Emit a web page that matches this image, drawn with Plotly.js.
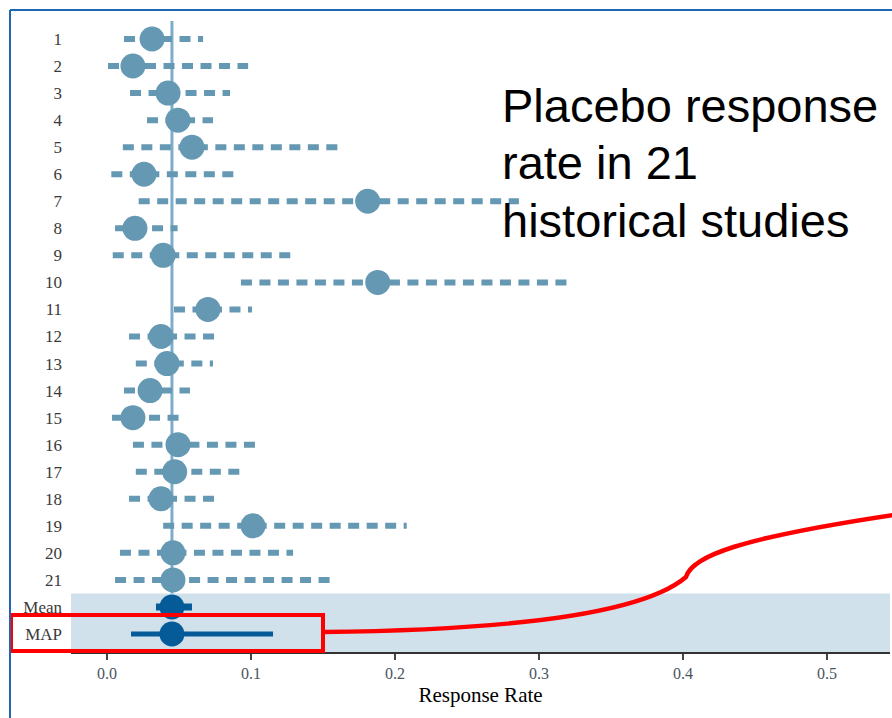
<!DOCTYPE html>
<html>
<head>
<meta charset="utf-8">
<script src="https://cdn.plot.ly/plotly-3.0.1.min.js"></script>
<style>
html,body{margin:0;padding:0;background:#fff;}
#chart{width:892px;height:718px;}
</style>
</head>
<body>
<div id="chart"></div>
<script>
// ---- data ----
const studyLabels = ['1','2','3','4','5','6','7','8','9','10','11','12','13','14','15','16','17','18','19','20','21'];
const studyPoint  = [0.0313,0.0180,0.0424,0.0493,0.0590,0.0257,0.1810,0.0194,0.0390,0.1880,0.0701,0.0375,0.0417,0.0299,0.0180,0.0493,0.0470,0.0375,0.1014,0.0458,0.0458];
const studyLow    = [0.0118,0.0007,0.0160,0.0278,0.0110,0.0030,0.0220,0.0056,0.0040,0.0930,0.0465,0.0153,0.0200,0.0118,0.0035,0.0180,0.0200,0.0153,0.0390,0.0090,0.0056];
const studyHigh   = [0.0667,0.0980,0.0854,0.0736,0.1630,0.0890,0.2860,0.0490,0.1290,0.3192,0.1007,0.0750,0.0736,0.0576,0.0507,0.1040,0.0924,0.0750,0.2081,0.1292,0.1568];
const summaryLabels = ['Mean','MAP'];
const summaryPoint  = [0.0451,0.0451];
const summaryLow    = [0.0340,0.0167];
const summaryHigh   = [0.0590,0.1153];
const xTickVals = [0.0,0.1,0.2,0.3,0.4,0.5];
const xTickText = ['0.0','0.1','0.2','0.3','0.4','0.5'];
const annotationLines = ['Placebo response','rate in 21','historical studies'];

// ---- layout constants ----
const W = 892, H = 718;
const M = {l:71, r:2, t:21, b:66};
const PW = W - M.l - M.r, PH = H - M.t - M.b;
const px = x => (x - M.l) / PW;
const py = y => (H - M.b - y) / PH;

const allLabels = studyLabels.concat(summaryLabels);
const rowOf = i => i + 1;

const studyColor = '#6598b3';
const refColor = '#7eadcc';
const darkColor = '#045b97';

const traces = [];
// reference line at mean
traces.push({
  x:[summaryPoint[0], summaryPoint[0]], y:[0.2, 21.5],
  mode:'lines', line:{color:refColor, width:3}, hoverinfo:'skip', showlegend:false
});
// study CIs (dashed)
studyLabels.forEach((lab,i)=>{
  traces.push({
    x:[studyLow[i], studyHigh[i]], y:[rowOf(i), rowOf(i)],
    mode:'lines', line:{color:studyColor, width:6, dash:'11px,7.5px'},
    hoverinfo:'skip', showlegend:false
  });
});
// study points
traces.push({
  x:studyPoint, y:studyLabels.map((_,i)=>rowOf(i)),
  mode:'markers', marker:{color:studyColor, size:25, line:{width:0}},
  showlegend:false
});
// summary CIs
summaryLabels.forEach((lab,j)=>{
  const i = studyLabels.length + j;
  traces.push({
    x:[summaryLow[j], summaryHigh[j]], y:[rowOf(i), rowOf(i)],
    mode:'lines', line:{color:darkColor, width:j===0?7:5},
    hoverinfo:'skip', showlegend:false
  });
});
traces.push({
  x:summaryPoint, y:summaryLabels.map((_,j)=>rowOf(studyLabels.length+j)),
  mode:'markers', marker:{color:darkColor, size:25, line:{width:0}},
  showlegend:false
});

const redPath =
  'M' + px(323) + ',' + py(632) +
  ' C' + px(520) + ',' + py(630) + ' ' + px(645) + ',' + py(612) + ' ' + px(686) + ',' + py(577) +
  ' C' + px(692) + ',' + py(556) + ' ' + px(740) + ',' + py(538) + ' ' + px(893) + ',' + py(515);

const layout = {
  width:W, height:H,
  margin:M,
  paper_bgcolor:'#ffffff', plot_bgcolor:'#ffffff',
  showlegend:false,
  xaxis:{
    range:[-0.025, 0.5437],
    tickvals:xTickVals, ticktext:xTickText,
    showgrid:false, zeroline:false,
    showline:true, linecolor:'#333333', linewidth:2,
    ticks:'outside', ticklen:6, tickwidth:2, tickcolor:'#444444',
    tickfont:{family:'Liberation Serif, serif', size:16, color:'#485460'},
    title:{text:'Response Rate', standoff:6, font:{family:'Liberation Serif, serif', size:21, color:'#000000'}}
  },
  yaxis:{
    range:[23.665, 0.335],
    tickvals:allLabels.map((_,i)=>rowOf(i)), ticktext:allLabels,
    showgrid:false, zeroline:false, showline:false,
    ticks:'', ticklabelstandoff:8,
    tickfont:{family:'Liberation Serif, serif', size:17, color:'#3a3a3a'}
  },
  shapes:[
    {type:'rect', xref:'x', yref:'y', x0:-0.025, x1:0.5437, y0:21.5, y1:23.665,
     fillcolor:'#d1e1ec', line:{width:0}, layer:'below'},
    {type:'rect', xref:'paper', yref:'paper', x0:px(11), x1:px(323), y0:py(651), y1:py(615),
     line:{color:'#ff0000', width:4}, fillcolor:'rgba(0,0,0,0)', layer:'above'},
    {type:'path', xref:'paper', yref:'paper', path:redPath,
     line:{color:'#ff0000', width:4.5}, layer:'above'},
    {type:'line', xref:'paper', yref:'paper', x0:px(10), x1:px(893), y0:py(10), y1:py(10),
     line:{color:'#1f67b5', width:2}},
    {type:'line', xref:'paper', yref:'paper', x0:px(10), x1:px(10), y0:py(10), y1:py(719),
     line:{color:'#1f67b5', width:2}}
  ],
  annotations: annotationLines.map((t,k)=>({
    text:t, xref:'paper', yref:'paper', x:px(500), y:py(105 + 57.5*k),
    xanchor:'left', yanchor:'middle', showarrow:false, align:'left',
    font:{family:'Liberation Sans, Arial, sans-serif', size:47, color:'#000000'}
  }))
};

Plotly.newPlot('chart', traces, layout, {displayModeBar:false, staticPlot:true});
</script>
</body>
</html>
